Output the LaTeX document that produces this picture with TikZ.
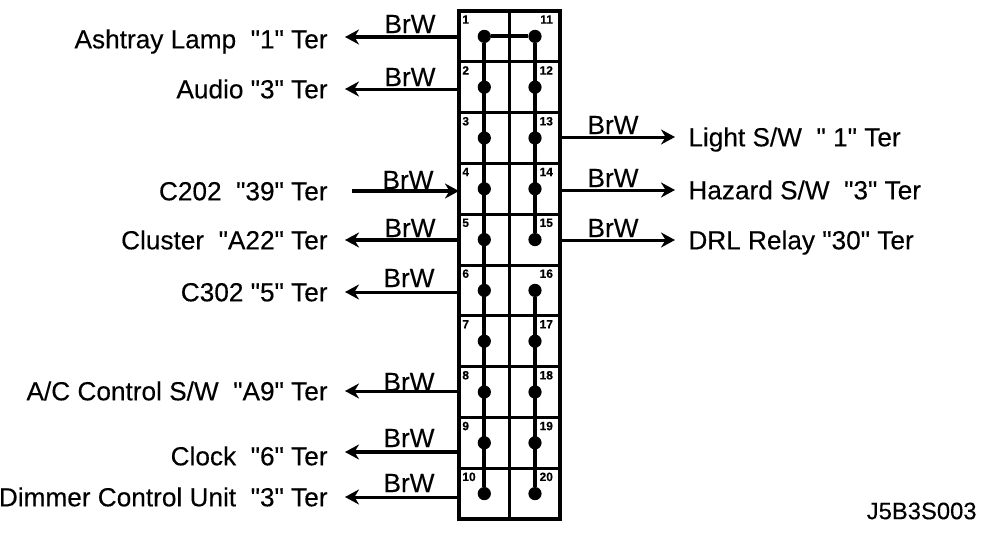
\documentclass[tikz,border=0pt]{standalone}
\usepackage{fontspec}
\setmainfont{Liberation Sans}[Ligatures=TeXOff,FakeBold=0.25]
\usetikzlibrary{arrows.meta,positioning}

\tikzset{
	cell/.style={draw,line width=1.5pt,minimum width=25.35pt,minimum height=25.4pt,inner sep=0pt,outer sep=0pt},
	cellnum/.style={font=\bfseries\fontsize{6}{7}\selectfont,inner sep=0pt},
	conn/.style={circle,fill,inner sep=0pt,minimum size=6.6pt},
	ter/.style={font=\fontsize{13.1}{15}\selectfont,inner sep=0pt,text height=9.3pt,text depth=0pt},
	partno/.style={font=\fontsize{11.9}{14}\selectfont,inner sep=0pt},
	wirelabel/.style={font=\fontsize{13.1}{15}\selectfont,inner sep=0pt},
	lead/.style={line width=1.5pt,-{Stealth[length=7pt,width=7.5pt]}},
	heavylead/.style={lead,line width=2pt}
}

\begin{document}
\begin{tikzpicture}[x=0.5pt,y=-0.5pt]
	\useasboundingbox (0,0) rectangle (1008,546);

	%% Fuse block cells
	\foreach \i in {1,...,10} {
		\pgfmathtruncatemacro{\j}{\i+10}
		\pgfmathsetmacro{\rowy}{36.4+50.8*(\i-1)}
		\node[cell] (c\i) at (484.3,\rowy) {};
		\node[cell] (c\j) at (535,\rowy) {};
		\node[cellnum,anchor=north west] (n\i) at ([shift={(3,4)}]c\i.north west) {\i};
		\node[cellnum,anchor=north east] (n\j) at ([shift={(-7,4)}]c\j.north east) {\j};
		\node[conn] (d\i) at (c\i.center) {};
		\node[conn] (d\j) at (c\j.center) {};
	}
	\draw[line width=2pt] (c1.north west) rectangle (c20.south east);

	%% Bus bars
	\draw[line width=2pt] (d10) -- (d1) -- (d11) -- (d15);
	\draw[line width=2pt] (d16) -- (d20);

	%% Left side
	\node[ter,anchor=east] (l1) at (328,39) {Ashtray Lamp~~"1" Ter};
	\node[ter,anchor=east] (l2) at (328,89) {Audio "3" Ter};
	\node[ter,anchor=east] (l4) at (328,191) {C202~~"39" Ter};
	\node[ter,anchor=east] (l5) at (328,240) {Cluster~~"A22" Ter};
	\node[ter,anchor=east] (l6) at (328,292) {C302 "5" Ter};
	\node[ter,anchor=east] (l8) at (328,391) {A/C Control S/W~~"A9" Ter};
	\node[ter,anchor=east] (l9) at (328,456) {Clock~~"6" Ter};
	\node[ter,anchor=east] (l10) at (328,497) {Dimmer Control Unit~~"3" Ter};

	%% Right side
	\node[ter,anchor=west] (r13) at (688,137) {Light S/W~~" 1" Ter};
	\node[ter,anchor=west] (r14) at (688,190) {Hazard S/W~~"3" Ter};
	\node[ter,anchor=west] (r15) at (688,240) {DRL Relay "30" Ter};

	\node[partno,anchor=east] (j) at (977,511) {J5B3S003};

	%% Wire colour
	\node[wirelabel] (w1) at (410,24) {BrW};
	\node[wirelabel] (w2) at (410,77) {BrW};
	\node[wirelabel] (w4) at (408,180) {BrW};
	\node[wirelabel] (w5) at (410,228) {BrW};
	\node[wirelabel] (w6) at (409,278) {BrW};
	\node[wirelabel] (w8) at (409,382) {BrW};
	\node[wirelabel] (w9) at (409,438) {BrW};
	\node[wirelabel] (w10) at (409,483) {BrW};
	\node[wirelabel] (w13) at (613,125) {BrW};
	\node[wirelabel] (w14) at (613,178) {BrW};
	\node[wirelabel] (w15) at (613,228) {BrW};

	%% Leads
	\draw[heavylead,shorten >=8.5pt] ([yshift=1pt]c1.west |- l1.east) -- ([yshift=1pt]l1.east);
	\draw[lead,shorten >=8.5pt] (c2.west |- l2.east) -- (l2.east);
	\draw[heavylead,shorten <=12pt] (l4.east) -- (c4.west |- l4.east);
	\draw[heavylead,shorten >=8.5pt] (c5.west |- l5.east) -- (l5.east);
	\draw[lead,shorten >=8.5pt] (c6.west |- l6.east) -- (l6.east);
	\draw[lead,shorten >=8.5pt] (c8.west |- l8.east) -- (l8.east);
	\draw[heavylead,shorten >=8.5pt] ([yshift=2pt]c9.west |- l9.east) -- ([yshift=2pt]l9.east);
	\draw[lead,shorten >=8.5pt] (c10.west |- l10.east) -- (l10.east);
	\draw[lead,shorten >=6.5pt] (c13.east |- r13.west) -- (r13.west);
	\draw[lead,shorten >=6.5pt] (c14.east |- r14.west) -- (r14.west);
	\draw[lead,shorten >=6.5pt] (c15.east |- r15.west) -- (r15.west);
\end{tikzpicture}
\end{document}
